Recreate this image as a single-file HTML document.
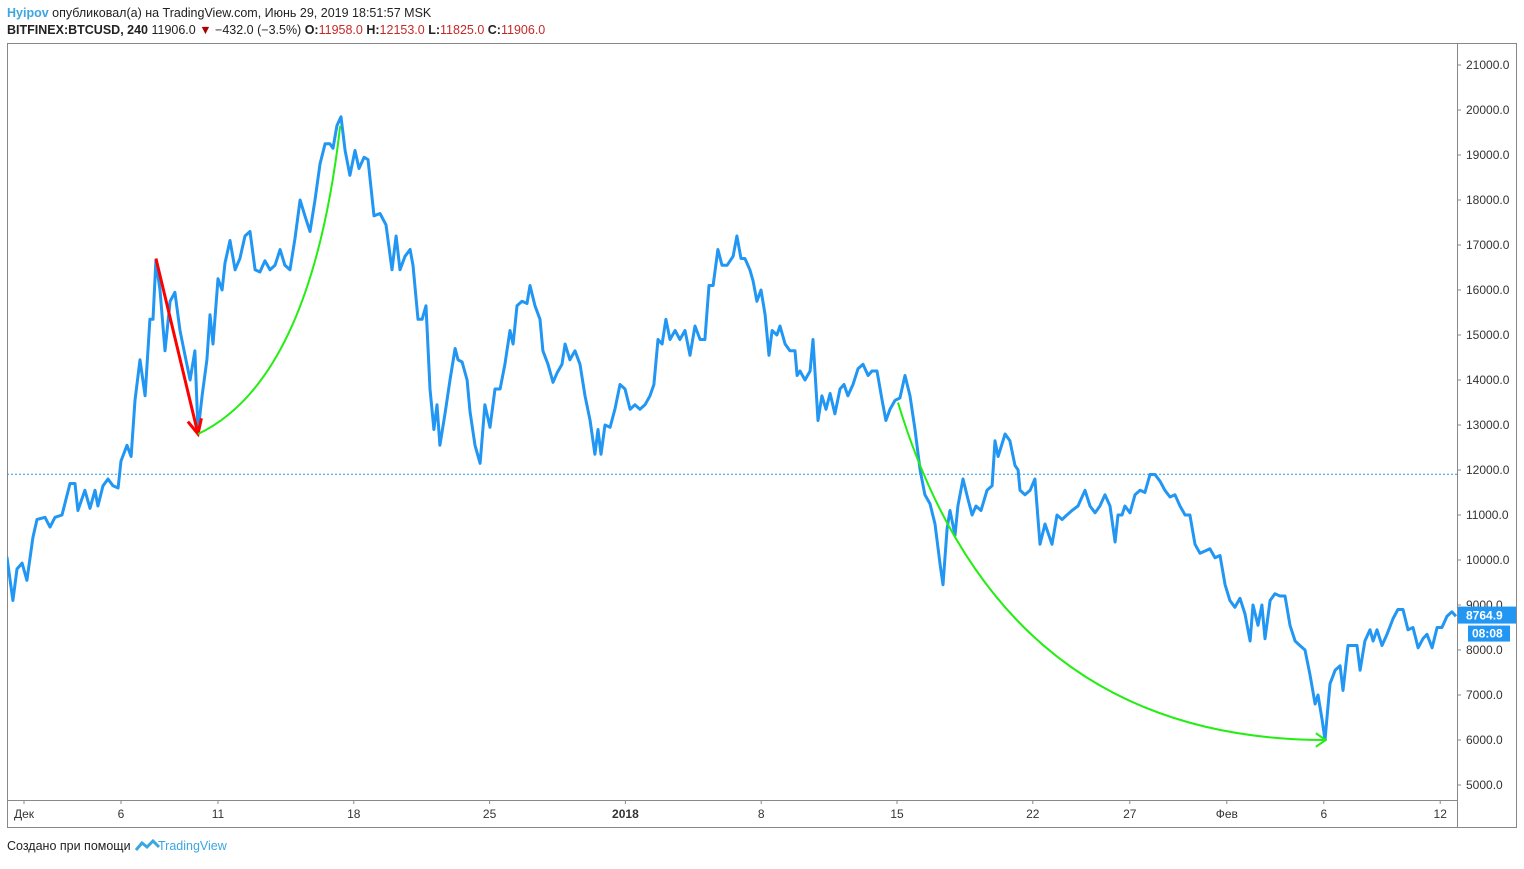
<!DOCTYPE html>
<html><head><meta charset="utf-8"><style>
body{margin:0;background:#fff;font-family:"Liberation Sans",sans-serif;}
svg text{font-family:"Liberation Sans",sans-serif;}
</style></head><body>
<svg id="c" width="1524" height="864" xmlns="http://www.w3.org/2000/svg">
<text x="7" y="17" font-size="12.5"><tspan fill="#3ba6e0" font-weight="bold">Hyipov</tspan><tspan fill="#222"> опубликовал(а) на TradingView.com, Июнь 29, 2019 18:51:57 MSK</tspan></text>
<text x="7" y="34" font-size="12.5" fill="#222"><tspan font-weight="bold">BITFINEX:BTCUSD, 240</tspan> 11906.0 <tspan fill="#a00">▼</tspan> −432.0 (−3.5%) <tspan font-weight="bold">O:</tspan><tspan fill="#c62828">11958.0</tspan> <tspan font-weight="bold">H:</tspan><tspan fill="#c62828">12153.0</tspan> <tspan font-weight="bold">L:</tspan><tspan fill="#c62828">11825.0</tspan> <tspan font-weight="bold">C:</tspan><tspan fill="#c62828">11906.0</tspan></text>
<rect x="7.5" y="43.5" width="1509" height="784" fill="none" stroke="#888"/>
<line x1="1457.5" y1="43" x2="1457.5" y2="828" stroke="#888"/>
<line x1="7" y1="800.5" x2="1457" y2="800.5" stroke="#888"/>
<g id="yaxis"></g><g id="xaxis"></g><g id="plot"></g>
<text x="7" y="850" font-size="12.5" fill="#222">Создано при помощи</text>
<path d="M136 850 l6 -7 l5 4 l6 -6 l6 6" fill="none" stroke="#3ba6e0" stroke-width="3"/>
<text x="158" y="850" font-size="12.5" fill="#3ba6e0">TradingView</text>
</svg>
<script>
const days=[-0.88,-0.57,-0.36,-0.10,0.15,0.46,0.67,1.08,1.34,1.60,1.96,2.37,2.63,2.78,3.14,3.40,3.66,3.81,4.07,4.33,4.59,4.85,5.00,5.31,5.52,5.72,5.98,6.24,6.49,6.65,6.80,7.01,7.27,7.53,7.78,8.04,8.30,8.56,8.81,8.97,9.18,9.43,9.59,9.74,10.00,10.21,10.36,10.62,10.88,11.13,11.39,11.65,11.91,12.16,12.42,12.68,12.94,13.20,13.45,13.71,13.97,14.23,14.48,14.74,15.00,15.26,15.52,15.77,15.93,16.13,16.34,16.55,16.80,17.06,17.27,17.53,17.73,18.04,18.35,18.66,18.97,19.18,19.38,19.64,19.90,20.05,20.31,20.52,20.72,20.93,21.13,21.29,21.44,21.70,21.96,22.22,22.37,22.58,22.84,22.99,23.25,23.51,23.76,24.02,24.28,24.54,24.79,25.05,25.21,25.41,25.67,25.93,26.08,26.34,26.60,26.75,27.01,27.27,27.47,27.73,27.89,28.14,28.40,28.66,28.92,29.18,29.43,29.59,29.74,29.95,30.21,30.46,30.72,30.98,31.24,31.49,31.75,32.01,32.27,32.47,32.68,32.89,33.09,33.30,33.56,33.81,34.07,34.33,34.59,34.85,35.10,35.31,35.52,35.77,35.98,36.24,36.55,36.75,36.96,37.16,37.42,37.58,37.78,37.99,38.20,38.40,38.56,38.81,38.97,39.23,39.48,39.74,39.85,40.00,40.26,40.52,40.67,40.93,41.13,41.34,41.55,41.80,42.06,42.27,42.47,42.73,42.99,43.25,43.51,43.71,43.97,44.23,44.43,44.64,44.90,45.15,45.41,45.67,45.93,46.19,46.44,46.70,46.96,47.22,47.37,47.58,47.73,47.99,48.14,48.40,48.66,48.87,49.07,49.33,49.64,49.90,50.05,50.21,50.57,50.82,51.08,51.24,51.34,51.60,51.86,52.11,52.37,52.63,52.99,53.25,53.51,53.76,54.02,54.33,54.69,54.95,55.21,55.46,55.72,55.98,56.24,56.39,56.60,56.75,57.01,57.27,57.53,57.78,58.04,58.30,58.56,58.81,59.07,59.33,59.59,59.85,60.10,60.36,60.62,60.88,61.13,61.39,61.65,61.91,62.16,62.42,62.68,62.94,63.20,63.35,63.61,63.81,63.97,64.23,64.48,64.74,65.00,65.26,65.52,65.77,66.03,66.29,66.55,66.70,66.91,67.06,67.32,67.58,67.84,67.99,68.25,68.51,68.71,68.87,69.12,69.38,69.54,69.74,70.00,70.26,70.57,70.82,71.08,71.34,71.60,71.86,72.11,72.32,72.58,72.84,73.09,73.35,73.61,73.81];
const prices=[10070,9100,9800,9930,9550,10500,10900,10950,10730,10950,11000,11700,11700,11100,11550,11150,11550,11200,11650,11800,11650,11600,12200,12550,12300,13550,14450,13650,15350,15350,16650,16000,14650,15750,15950,15100,14550,14000,14650,12850,13650,14450,15450,14800,16250,16000,16600,17100,16450,16700,17200,17300,16450,16400,16650,16450,16550,16900,16550,16450,17150,18000,17650,17300,18000,18800,19250,19250,19150,19650,19850,19100,18550,19100,18700,18950,18900,17650,17700,17450,16450,17200,16450,16750,16900,16550,15350,15350,15650,13800,12900,13450,12550,13250,14000,14700,14450,14400,14000,13300,12550,12150,13450,12950,13800,13800,14350,15100,14800,15650,15750,15700,16100,15650,15350,14650,14350,13950,14150,14350,14800,14450,14650,14350,13650,13100,12350,12900,12350,13000,12950,13350,13900,13800,13350,13450,13350,13450,13650,13900,14900,14800,15350,14900,15100,14900,15100,14550,15200,14900,14900,16100,16100,16900,16550,16550,16750,17200,16700,16700,16450,16200,15750,16000,15450,14550,15100,15000,15200,14800,14650,14650,14100,14200,14000,14200,14900,13100,13650,13350,13700,13250,13800,13900,13650,13900,14250,14350,14100,14200,14200,13550,13100,13350,13550,13600,14100,13650,12900,12000,11450,11250,10800,9900,9450,10700,11100,10550,11200,11800,11350,11000,11200,11100,11550,11650,12650,12300,12800,12650,12100,12000,11550,11450,11550,11800,10350,10800,10350,11000,10900,11000,11100,11200,11550,11200,11050,11200,11450,11200,10400,11000,11000,11200,11050,11450,11550,11500,11900,11900,11750,11550,11400,11450,11200,11000,11000,10350,10150,10200,10250,10050,10100,9450,9100,8950,9150,8800,8200,9000,8550,9000,8250,9100,9250,9200,9200,8550,8200,8100,8000,7450,6800,7000,6450,6000,7250,7550,7650,7100,8100,8100,8100,7550,8200,8450,8200,8450,8100,8350,8700,8900,8900,8450,8500,8050,8250,8350,8050,8500,8500,8750,8850,8750];
const priceTicks=[21000,20000,19000,18000,17000,16000,15000,14000,13000,12000,11000,10000,9000,8000,7000,6000,5000];
const timeTickDays=[0,5,10,17,24,31,38,45,52,57,62,67,73];
const timeTickLabels=["Дек","6","11","18","25","2018","8","15","22","27","Фев","6","12"];
const lastClose=11906, lastPrice=8764.9, timer="08:08";
const redArrow=[[6.8,16700],[8.97,12800]];
const greenArc1=[[8.97,12800],[14.8,14000],[16.3,19650]];
const greenArc2=[[45.05,13500],[50.3,6000],[67.1,6000]];

const X=d=>24+d*19.4, Y=p=>65+(21000-p)*0.045;
const NS="http://www.w3.org/2000/svg";
function mk(tag,attrs,parent){const e=document.createElementNS(NS,tag);for(const k in attrs)e.setAttribute(k,attrs[k]);parent.appendChild(e);return e;}
const ya=document.getElementById('yaxis'),xa=document.getElementById('xaxis'),pl=document.getElementById('plot');
priceTicks.forEach(p=>{
  const t=mk('text',{x:1466,y:Y(p)+4,'font-size':12,fill:'#333'},ya);
  
  
  t.textContent=p.toFixed(1);
  const l=mk('line',{x1:1457,x2:1461,y1:Y(p),y2:Y(p),stroke:'#888'},ya);
  
  
});
timeTickDays.forEach((d,i)=>{
  const t=mk('text',{x:X(d),y:818,'font-size':12,fill:'#333','text-anchor':'middle','font-weight':timeTickLabels[i]==="2018"?'bold':'normal'},xa);
  
  
  t.textContent=timeTickLabels[i];
  const l=mk('line',{x1:X(d),x2:X(d),y1:800,y2:804,stroke:'#888'},xa);
  
  
});
const cl=mk('line',{x1:7,x2:1457,y1:Y(lastClose),y2:Y(lastClose),stroke:'#2196f3','stroke-dasharray':'2,2'},pl);


const cp=mk('clipPath',{id:'clip'},pl);mk('rect',{x:7,y:43,width:1450,height:757},cp);
const pts=days.map((d,i)=>X(d).toFixed(1)+','+Y(prices[i]).toFixed(1)).join(' ');
const line=mk('polyline',{points:pts,fill:'none',stroke:'#2196f3','stroke-width':3,'stroke-linejoin':'round','clip-path':'url(#clip)'},pl);


// red arrow
const [a,b]=redArrow;const ax=X(a[0]),ay=Y(a[1]),bx=X(b[0]),by=Y(b[1]);
const ang=Math.atan2(by-ay,bx-ax),h=16;
const ra=mk('path',{d:`M${ax},${ay}L${bx},${by}M${bx-h*Math.cos(ang-0.45)},${by-h*Math.sin(ang-0.45)}L${bx},${by}L${bx-h*Math.cos(ang+0.45)},${by-h*Math.sin(ang+0.45)}`,fill:'none',stroke:'#f00','stroke-width':3},pl);


function arc(p,head,name){
  const [s,c,e]=p.map(q=>[X(q[0]),Y(q[1])]);
  let d=`M${s[0]},${s[1]}Q${c[0]},${c[1]} ${e[0]},${e[1]}`;
  if(head){const an=Math.atan2(e[1]-c[1],e[0]-c[0]),k=12;
    d+=`M${e[0]-k*Math.cos(an-0.6)},${e[1]-k*Math.sin(an-0.6)}L${e[0]},${e[1]}L${e[0]-k*Math.cos(an+0.6)},${e[1]-k*Math.sin(an+0.6)}`;}
  const g=mk('path',{d:d,fill:'none',stroke:'#22ee11','stroke-width':2},pl);
  
  
}
arc(greenArc1,false,'green-arc-up');
arc(greenArc2,true,'green-arc-down');
// labels
const yb=Y(lastPrice);
const r1=mk('rect',{x:1458,y:yb-9,width:58,height:17,fill:'#2196f3'},pl);


const t1=mk('text',{x:1466,y:yb+4,'font-size':12,fill:'#fff','font-weight':'bold'},pl);


t1.textContent=lastPrice.toFixed(1);
const r2=mk('rect',{x:1468,y:yb+10,width:42,height:16,fill:'#2196f3'},pl);


const t2=mk('text',{x:1472,y:yb+22,'font-size':12,fill:'#fff','font-weight':'bold'},pl);


t2.textContent=timer;
</script>
</body></html>
